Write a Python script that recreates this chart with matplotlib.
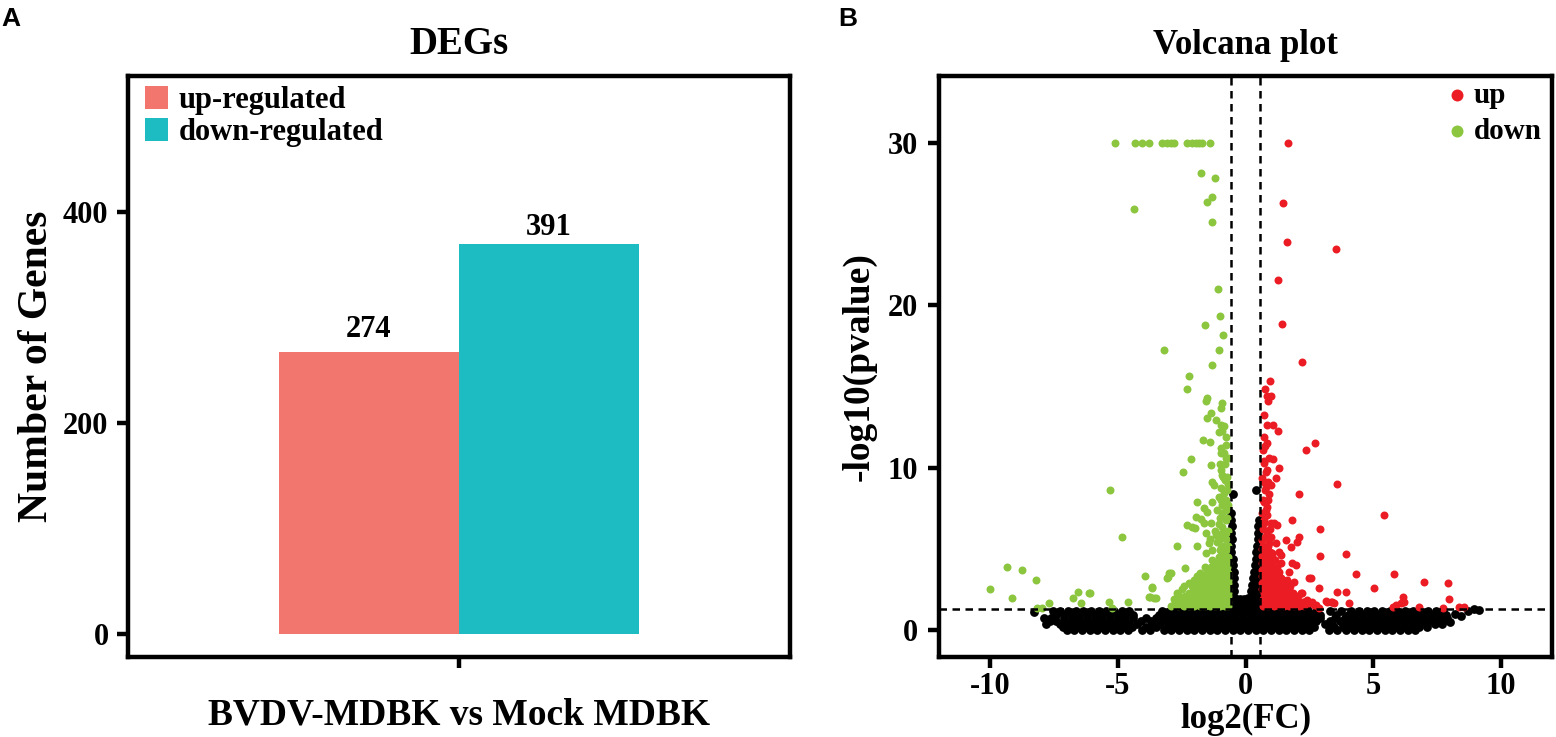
import matplotlib.pyplot as plt

plt.rcParams['font.family'] = ['Liberation Serif', 'DejaVu Serif']
plt.rcParams['font.weight'] = 'bold'
plt.rcParams['axes.labelweight'] = 'bold'
plt.rcParams['axes.titleweight'] = 'bold'
plt.rcParams['axes.unicode_minus'] = False

# ---------------- panel A : DEG counts ----------------
groups = ['up-regulated', 'down-regulated']
gene_counts = [274, 391]          # numbers printed above the bars
bar_heights = [267, 370]          # bar tops as drawn against the y axis
bar_colors = ['#F3766E', '#1CBCC2']
comparison = 'BVDV-MDBK vs Mock MDBK'

# ---------------- panel B : volcano ----------------
fc_cut = 0.585      # log2(1.5)
p_cut = 1.30        # -log10(0.05)

# green points capped at 30
down_top_x = [-5.09, -4.31, -4.05, -3.78, -3.26, -3.07, -2.92, -2.78,
              -2.28, -2.09, -1.95, -1.83, -1.72, -1.39]
down_pts = [
    (-1.76, 28.1), (-1.20, 27.8), (-1.30, 26.66), (-1.50, 26.33), (-4.35, 25.94), (-1.30, 25.12),
    (-1.07, 20.99), (-1.00, 19.3), (-1.59, 18.79), (-0.88, 18.18), (-1.04, 17.25), (-3.20, 17.21),
    (-1.30, 16.33), (-2.22, 15.65), (-2.28, 14.83), (-1.50, 14.27), (-1.56, 14.07), (-0.91, 13.96),
    (-0.97, 13.66), (-1.36, 13.35), (-1.50, 13.04), (-1.17, 12.94), (-0.97, 12.63), (-0.84, 12.53),
    (-0.91, 12.22), (-0.78, 11.91), (-1.67, 11.71), (-1.40, 11.60), (-0.97, 11.19), (-0.84, 10.89),
    (-0.78, 10.58), (-2.12, 10.54), (-1.36, 10.17), (-2.44, 9.71), (-0.97, 9.86), (-0.91, 9.55),
    (-0.80, 9.24), (-1.30, 9.14), (-1.24, 8.93), (-0.97, 8.73), (-5.31, 8.63), (-0.84, 8.42),
    (-1.04, 8.21), (-0.78, 8.01), (-0.91, 7.70), (-1.89, 7.91), (-1.30, 7.91), (-1.63, 7.50),
    (-1.50, 7.29), (-1.95, 6.94), (-1.76, 6.82), (-1.63, 6.61), (-1.36, 6.57), (-0.91, 7.19),
    (-0.78, 6.78), (-0.91, 6.37), (-0.78, 5.96), (-2.28, 6.47), (-2.09, 6.37), (-1.56, 5.96),
    (-1.17, 5.85), (-4.85, 5.75), (-1.43, 5.34), (-1.10, 5.44), (-2.70, 5.20), (-1.56, 4.72),
    (-0.97, 5.03), (-0.84, 4.62), (-1.30, 4.31), (-1.10, 4.00), (-0.97, 4.21), (-0.78, 4.31),
    (-2.37, 3.80), (-3.95, 3.35), (-3.00, 3.49), (-3.07, 3.18), (-3.65, 2.67), (-3.72, 2.05),
    (-3.59, 1.95), (-6.07, 2.26), (-5.35, 1.74), (-4.60, 1.74), (-10.02, 2.53), (-9.34, 3.90),
    (-9.15, 1.99), (-8.75, 3.70), (-8.19, 3.08), (-8.16, 1.38), (-7.97, 1.38), (-7.71, 1.68),
    (-6.75, 1.99), (-6.57, 2.36), (-6.46, 1.64), (-6.11, 2.26), (-5.22, 1.35), (-3.65, 2.61),
    (-3.78, 2.01), (-3.52, 1.95), (-3.04, 3.24), (-2.91, 3.53), (-1.99, 6.30),
]
# dense green block next to the left cut-off: (y, [x...])
down_rows = [
    (1.5, [-2.9, -2.65, -2.4, -2.2, -2.0, -1.8, -1.6, -1.4, -1.2, -1.0, -0.8, -0.68]),
    (1.7, [-2.75, -2.5, -2.3, -2.1, -1.9, -1.7, -1.5, -1.3, -1.1, -0.9, -0.7]),
    (1.9, [-2.8, -2.5, -2.3, -2.1, -1.9, -1.7, -1.5, -1.3, -1.1, -0.9, -0.72]),
    (2.1, [-2.6, -2.35, -2.1, -1.9, -1.7, -1.5, -1.3, -1.1, -0.9, -0.7]),
    (2.3, [-2.7, -2.2, -2.0, -1.8, -1.6, -1.4, -1.2, -1.0, -0.8, -0.68]),
    (2.5, [-2.5, -2.0, -1.7, -1.5, -1.3, -1.1, -0.9, -0.7]),
    (2.7, [-2.4, -2.1, -1.9, -1.5, -1.3, -1.1, -0.9, -0.72]),
    (2.9, [-2.2, -1.8, -1.6, -1.3, -1.1, -0.9, -0.7]),
    (3.1, [-2.0, -1.7, -1.4, -1.2, -1.0, -0.8, -0.68]),
    (3.3, [-1.9, -1.55, -1.3, -1.1, -0.9, -0.7]),
    (3.5, [-1.8, -1.5, -1.25, -1.0, -0.8, -0.7]),
    (3.7, [-1.4, -1.15, -0.95, -0.75]),
    (3.9, [-1.6, -1.35, -1.1, -0.9, -0.72]),
    (4.1, [-1.2, -0.9, -0.7]),
    (4.5, [-1.05, -0.8, -0.68]),
    (4.9, [-1.3, -1.0, -0.75]),
    (5.2, [-1.9, -0.9, -0.7]),
    (5.6, [-1.4, -1.0, -0.75]),
    (5.9, [-0.95]),
    (6.1, [-1.2, -0.7]),
    (6.5, [-1.05]),
    (6.9, [-1.0, -0.72]),
    (7.4, [-1.1, -0.75]),
    (7.7, [-0.7]),
    (8.0, [-0.95]),
    (8.6, [-0.72]),
    (9.0, [-0.7]),
    (9.4, [-0.88, -0.72]),
    (10.2, [-1.0, -0.8]),
    (10.6, [-0.7]),
    (10.9, [-0.95]),
    (11.4, [-0.75]),
    (12.2, [-1.05]),
]

up_pts = [
    (1.67, 29.99), (1.48, 26.27), (1.62, 23.87), (3.56, 23.48), (1.26, 21.55), (1.44, 18.84), (2.22, 16.51),
    (0.95, 15.34), (0.76, 14.83), (1.01, 14.42), (0.86, 14.42), (0.88, 14.07), (0.73, 13.25), (1.09, 12.63),
    (1.29, 12.22), (0.73, 11.91), (0.86, 11.54), (0.69, 11.09), (2.36, 11.05), (2.73, 11.54), (0.92, 10.58),
    (1.09, 10.52), (0.73, 10.27), (1.31, 9.96), (0.86, 9.86), (1.21, 9.38), (0.66, 9.35), (0.79, 8.83),
    (0.99, 8.93), (3.60, 9.00), (2.10, 8.36), (0.92, 8.38), (0.73, 7.91), (0.86, 7.60), (0.66, 7.19),
    (0.86, 7.09), (0.73, 6.57), (0.99, 6.57), (5.43, 7.07), (1.84, 6.78), (1.12, 6.57), (1.25, 6.47),
    (2.91, 6.20), (0.86, 5.96), (0.66, 5.55), (0.92, 5.34), (1.18, 5.34), (1.58, 5.55), (2.10, 5.75),
    (2.03, 5.44), (1.77, 5.13), (0.73, 4.83), (1.05, 4.72), (1.38, 4.62), (2.91, 4.56), (3.95, 4.66),
    (1.84, 4.15), (1.97, 4.00), (1.38, 4.11), (0.99, 4.00), (0.73, 3.70), (0.92, 3.49), (1.31, 3.59),
    (1.71, 3.59), (1.38, 3.18), (1.05, 3.08), (1.64, 3.08), (0.79, 2.88), (1.18, 2.57), (1.58, 2.67),
    (1.90, 2.98), (2.16, 2.26), (1.12, 2.16), (0.73, 2.26), (1.44, 2.05), (1.71, 2.26), (1.90, 1.85),
    (2.29, 1.74), (2.49, 1.64), (2.69, 1.54), (2.88, 1.36), (3.21, 1.74), (3.40, 1.74), (2.56, 3.18),
    (2.88, 2.57), (3.60, 2.36), (3.93, 2.36), (4.06, 1.68), (4.32, 3.45), (5.04, 2.61), (5.82, 3.45),
    (6.15, 1.74), (5.76, 1.44), (7.00, 2.98), (7.94, 2.88), (7.95, 1.89), (6.15, 2.05), (6.22, 1.74),
    (6.09, 1.64), (5.89, 1.54), (6.80, 1.44), (7.72, 1.36), (8.37, 1.40), (8.57, 1.40), (3.15, 1.81),
    (3.34, 1.74), (3.47, 1.68), (2.49, 3.18), (2.23, 2.26), (2.42, 1.85), (2.75, 1.54),
]
up_rows = [
    (1.5, [0.7, 0.9, 1.1, 1.3, 1.5, 1.7, 1.9, 2.1, 2.3]),
    (1.7, [0.8, 1.0, 1.2, 1.4, 1.6, 1.8, 2.05, 2.25, 2.6]),
    (1.9, [0.7, 0.9, 1.1, 1.3, 1.5, 1.7, 2.0]),
    (2.1, [0.8, 1.0, 1.2, 1.4, 1.6, 1.85, 2.05]),
    (2.3, [0.75, 0.95, 1.15, 1.35, 1.55, 1.85]),
    (2.5, [0.65, 0.85, 1.05, 1.25, 1.45, 1.7]),
    (2.7, [0.7, 0.9, 1.1, 1.3, 1.5, 1.75]),
    (2.9, [0.65, 0.85, 1.05, 1.25, 1.45]),
    (3.1, [0.75, 0.95, 1.2, 1.45]),
    (3.3, [0.65, 0.85, 1.05, 1.3]),
    (3.5, [0.7, 0.9, 1.15]),
    (3.7, [0.65, 0.85, 1.1]),
    (3.9, [0.75, 1.0, 1.25]),
    (4.1, [0.65, 0.85]),
    (4.3, [0.7, 0.9, 1.15]),
    (4.55, [0.65, 0.85, 1.05]),
    (4.8, [0.75, 0.95, 1.3]),
    (5.0, [0.65, 0.85]),
    (5.2, [0.7, 0.9]),
    (5.7, [0.75, 1.0]),
    (6.2, [0.7, 0.95]),
    (6.8, [0.72]),
    (7.4, [0.8]),
    (8.0, [0.7, 0.9]),
    (8.6, [0.75]),
    (9.1, [0.72, 0.9]),
    (9.7, [0.8]),
    (10.4, [0.72]),
    (11.3, [0.78]),
    (12.6, [0.85]),
]

# non significant genes: the band under the p cut-off, row by row
ns_rows = [
    (1.3, [-2.5, -1.9, -1.2, -0.6, -0.3, 0.0, 0.3, 0.6, 1.2, 1.8, 2.4]),
    (1.15, [-7.55, -7.25, -6.95, -6.65, -6.35, -6.05, -5.75, -5.45, -5.15, -4.85, -4.55, -3.25,
            -2.95, -2.65, -2.35, -2.05, -1.75, -1.45, -1.15, -0.85, -0.55, -0.25, 0.05, 0.35,
            0.65, 0.95, 1.25, 1.55, 1.85, 2.15, 2.45, 2.75, 3.3, 3.75, 4.15, 4.45, 4.75, 5.05,
            5.35, 5.65, 5.95, 6.25, 6.55, 6.85, 7.15, 7.45, 7.75]),
    (0.95, [-7.4, -7.1, -6.8, -6.5, -6.2, -5.9, -5.6, -5.3, -5.0, -4.7, -4.4, -3.4, -3.1, -2.8,
            -2.5, -2.2, -1.9, -1.6, -1.3, -1.0, -0.7, -0.4, -0.1, 0.2, 0.5, 0.8, 1.1, 1.4, 1.7,
            2.0, 2.3, 2.6, 2.9, 3.55, 4.0, 4.3, 4.6, 4.9, 5.2, 5.5, 5.8, 6.1, 6.4, 6.7, 7.0,
            7.3, 7.6, 7.85]),
    (0.75, [-7.9, -7.6, -7.1, -6.8, -6.5, -6.2, -5.9, -5.6, -5.3, -5.0, -4.7, -4.4, -3.9, -3.5,
            -3.1, -2.8, -2.5, -2.2, -1.9, -1.6, -1.3, -1.0, -0.7, -0.4, -0.1, 0.2, 0.5, 0.8,
            1.1, 1.4, 1.7, 2.0, 2.3, 2.6, 2.9, 3.5, 3.9, 4.3, 4.6, 4.9, 5.2, 5.5, 5.8, 6.1,
            6.4, 6.7, 7.0, 7.3, 7.6, 7.9]),
    (0.55, [-7.65, -7.4, -7.1, -6.8, -6.5, -6.2, -5.9, -5.6, -5.3, -5.0, -4.7, -4.1, -3.7, -3.3,
            -2.95, -2.65, -2.35, -2.05, -1.75, -1.45, -1.15, -0.85, -0.55, -0.25, 0.05, 0.35,
            0.65, 0.95, 1.25, 1.55, 1.85, 2.15, 2.45, 2.75, 3.3, 3.7, 4.15, 4.45, 4.75, 5.05,
            5.35, 5.65, 5.95, 6.25, 6.55, 6.85, 7.15, 7.45, 7.75]),
    (0.35, [-7.8, -7.25, -6.95, -6.65, -6.35, -6.05, -5.75, -5.45, -5.15, -4.85, -4.55, -4.25,
            -3.65, -3.35, -3.05, -2.75, -2.45, -2.15, -1.85, -1.55, -1.25, -0.95, -0.65, -0.35,
            -0.05, 0.25, 0.55, 0.85, 1.15, 1.45, 1.75, 2.05, 2.35, 2.65, 3.1, 3.4, 3.8, 4.1,
            4.4, 4.7, 5.0, 5.3, 5.6, 5.9, 6.2, 6.5, 6.8, 7.1, 7.4, 7.7]),
    (0.17, [-7.15, -6.85, -6.55, -6.25, -5.95, -5.65, -5.35, -5.05, -4.75, -4.45, -3.9, -3.5,
            -3.05, -2.75, -2.45, -2.15, -1.85, -1.55, -1.25, -0.95, -0.65, -0.35, -0.05, 0.25,
            0.55, 0.85, 1.15, 1.45, 1.75, 2.05, 2.35, 2.7, 3.45, 3.8, 4.1, 4.4, 4.7, 5.0, 5.3,
            5.6, 5.9, 6.2, 6.5, 6.8, 7.1]),
    (0.0, [-7.0, -6.7, -6.4, -6.1, -5.8, -5.5, -5.2, -4.9, -4.6, -4.05, -3.75, -3.2, -2.9, -2.6,
           -2.3, -2.0, -1.7, -1.4, -1.1, -0.8, -0.5, -0.2, 0.1, 0.4, 0.7, 1.0, 1.3, 1.6, 1.9,
           2.2, 2.5, 3.25, 3.6, 3.95, 4.25, 4.55, 4.85, 5.15, 5.45, 5.75, 6.05, 6.35, 6.65]),
]
# the two black spikes between the fold-change cut-offs, plus stragglers
ns_pts = [
    (-8.3, 1.1), (8.2, 1.0), (8.45, 0.85), (8.7, 1.15), (8.95, 1.28), (9.15, 1.25), (8.0, 0.5),
    (-0.62, 1.6), (-0.42, 1.6), (-0.6, 2.0), (-0.4, 2.0), (-0.62, 2.4), (-0.44, 2.4),
    (-0.6, 2.8), (-0.45, 2.8), (-0.6, 3.2), (-0.46, 3.2), (-0.58, 3.6), (-0.46, 3.6),
    (-0.57, 4.0), (-0.47, 4.0), (-0.56, 4.4), (-0.48, 4.4), (-0.55, 4.8), (-0.55, 5.2),
    (-0.53, 5.6), (-0.55, 6.0), (-0.53, 6.4), (-0.55, 6.8), (-0.56, 7.2), (-0.47, 8.35),
    (-0.25, 1.5), (-0.1, 1.5), (-0.2, 1.9), (-0.05, 1.9),
    (0.05, 1.6), (0.25, 1.6), (0.45, 1.6), (0.55, 1.6), (0.1, 2.0), (0.3, 2.0), (0.5, 2.0),
    (0.2, 2.4), (0.38, 2.4), (0.53, 2.4), (0.25, 2.8), (0.42, 2.8), (0.55, 2.8), (0.3, 3.2),
    (0.48, 3.2), (0.35, 3.6), (0.5, 3.6), (0.38, 4.0), (0.52, 4.0), (0.4, 4.4), (0.52, 4.4),
    (0.42, 4.8), (0.52, 4.8), (0.45, 5.2), (0.5, 5.6), (0.48, 6.0), (0.5, 6.4), (0.52, 6.8),
    (0.42, 8.64),
]


def gather(pts, rows, top_x=None, top_y=30):
    xs = [p[0] for p in pts]
    ys = [p[1] for p in pts]
    for y, row in rows:
        xs += row
        ys += [y] * len(row)
    if top_x:
        xs += top_x
        ys += [top_y] * len(top_x)
    return xs, ys


ns_x, ns_y = gather(ns_pts, ns_rows)
down_x, down_y = gather(down_pts, down_rows, down_top_x)
up_x, up_y = gather(up_pts, up_rows)

W, H = 1556, 737
fig = plt.figure(figsize=(W / 100, H / 100), dpi=100)

ax1 = fig.add_axes([128 / W, 80 / H, 662 / W, 581 / H])
ax2 = fig.add_axes([939 / W, 80 / H, 613 / W, 581 / H])

frame_lw = 3.2
tick_kw = dict(direction='out', length=8, width=frame_lw, colors='black')

# ---- bars
bar_w = 0.544
pos = [-bar_w / 2, bar_w / 2]
label_gap = [11, 6.5]
for i in range(len(groups)):
    ax1.bar(pos[i], bar_heights[i], width=bar_w, color=bar_colors[i], label=groups[i])
    ax1.annotate(str(gene_counts[i]), (pos[i], bar_heights[i]), xytext=(0, label_gap[i]),
                 textcoords='offset points', ha='center', va='baseline', fontsize=22,
                 fontweight='bold')
ax1.set_xlim(-1, 1)
ax1.set_ylim(-22, 529)
ax1.set_yticks([0, 200, 400])
ax1.set_xticks([0])
ax1.set_xticklabels([comparison])
ax1.tick_params(axis='y', pad=6, labelsize=22, **tick_kw)
ax1.tick_params(axis='x', pad=21, labelsize=27, **tick_kw)
ax1.set_ylabel('Number of Genes', fontsize=30, labelpad=5)
ax1.set_title('DEGs', fontsize=28, pad=16)
for s in ax1.spines.values():
    s.set_linewidth(frame_lw)
ax1.legend(loc='upper left', bbox_to_anchor=(17 / 662, 1 - 10 / 581), frameon=False,
           fontsize=22, handlelength=0.75, handleheight=0.75, handletextpad=0.35,
           labelspacing=0.1, borderpad=0, borderaxespad=0)

# ---- volcano
ax2.scatter(ns_x, ns_y, s=40, c='black', linewidths=0, zorder=2)
g = ax2.scatter(down_x, down_y, s=33, c='#8CC63F', linewidths=0, zorder=3, label='down')
r = ax2.scatter(up_x, up_y, s=33, c='#EC1C24', linewidths=0, zorder=3, label='up')
dash = dict(color='black', lw=1.8, ls=(0, (3, 2.2)), zorder=4)
ax2.axvline(-fc_cut, **dash)
ax2.axvline(fc_cut, **dash)
ax2.axhline(p_cut, **dash)
ax2.set_xlim(-12, 12)
ax2.set_ylim(-1.66, 34.1)
ax2.set_xticks([-10, -5, 0, 5, 10])
ax2.set_yticks([0, 10, 20, 30])
ax2.tick_params(axis='y', pad=7, labelsize=22, **tick_kw)
ax2.tick_params(axis='x', pad=3, labelsize=22, **tick_kw)
ax2.set_xlabel('log2(FC)', fontsize=25)
ax2.xaxis.set_label_coords(0.5, -0.079)
ax2.set_ylabel('-log10(pvalue)', fontsize=27, labelpad=8)
ax2.set_title('Volcana plot', fontsize=25, pad=16)
for s in ax2.spines.values():
    s.set_linewidth(frame_lw)
ax2.legend(handles=[r, g], loc='upper right', bbox_to_anchor=(1 - 10 / 613, 1 - 6 / 581),
           frameon=False, fontsize=21, markerscale=1.5, handlelength=0.6, handletextpad=0.3,
           labelspacing=0.3, borderpad=0, borderaxespad=0, scatterpoints=1)

fig.text(1 / W, 1 - 7 / H, 'A', fontsize=19, fontweight='bold', family='Liberation Sans',
         ha='left', va='top')
fig.text(838 / W, 1 - 7 / H, 'B', fontsize=19, fontweight='bold', family='Liberation Sans',
         ha='left', va='top')

fig.savefig('out.png', dpi=100)
